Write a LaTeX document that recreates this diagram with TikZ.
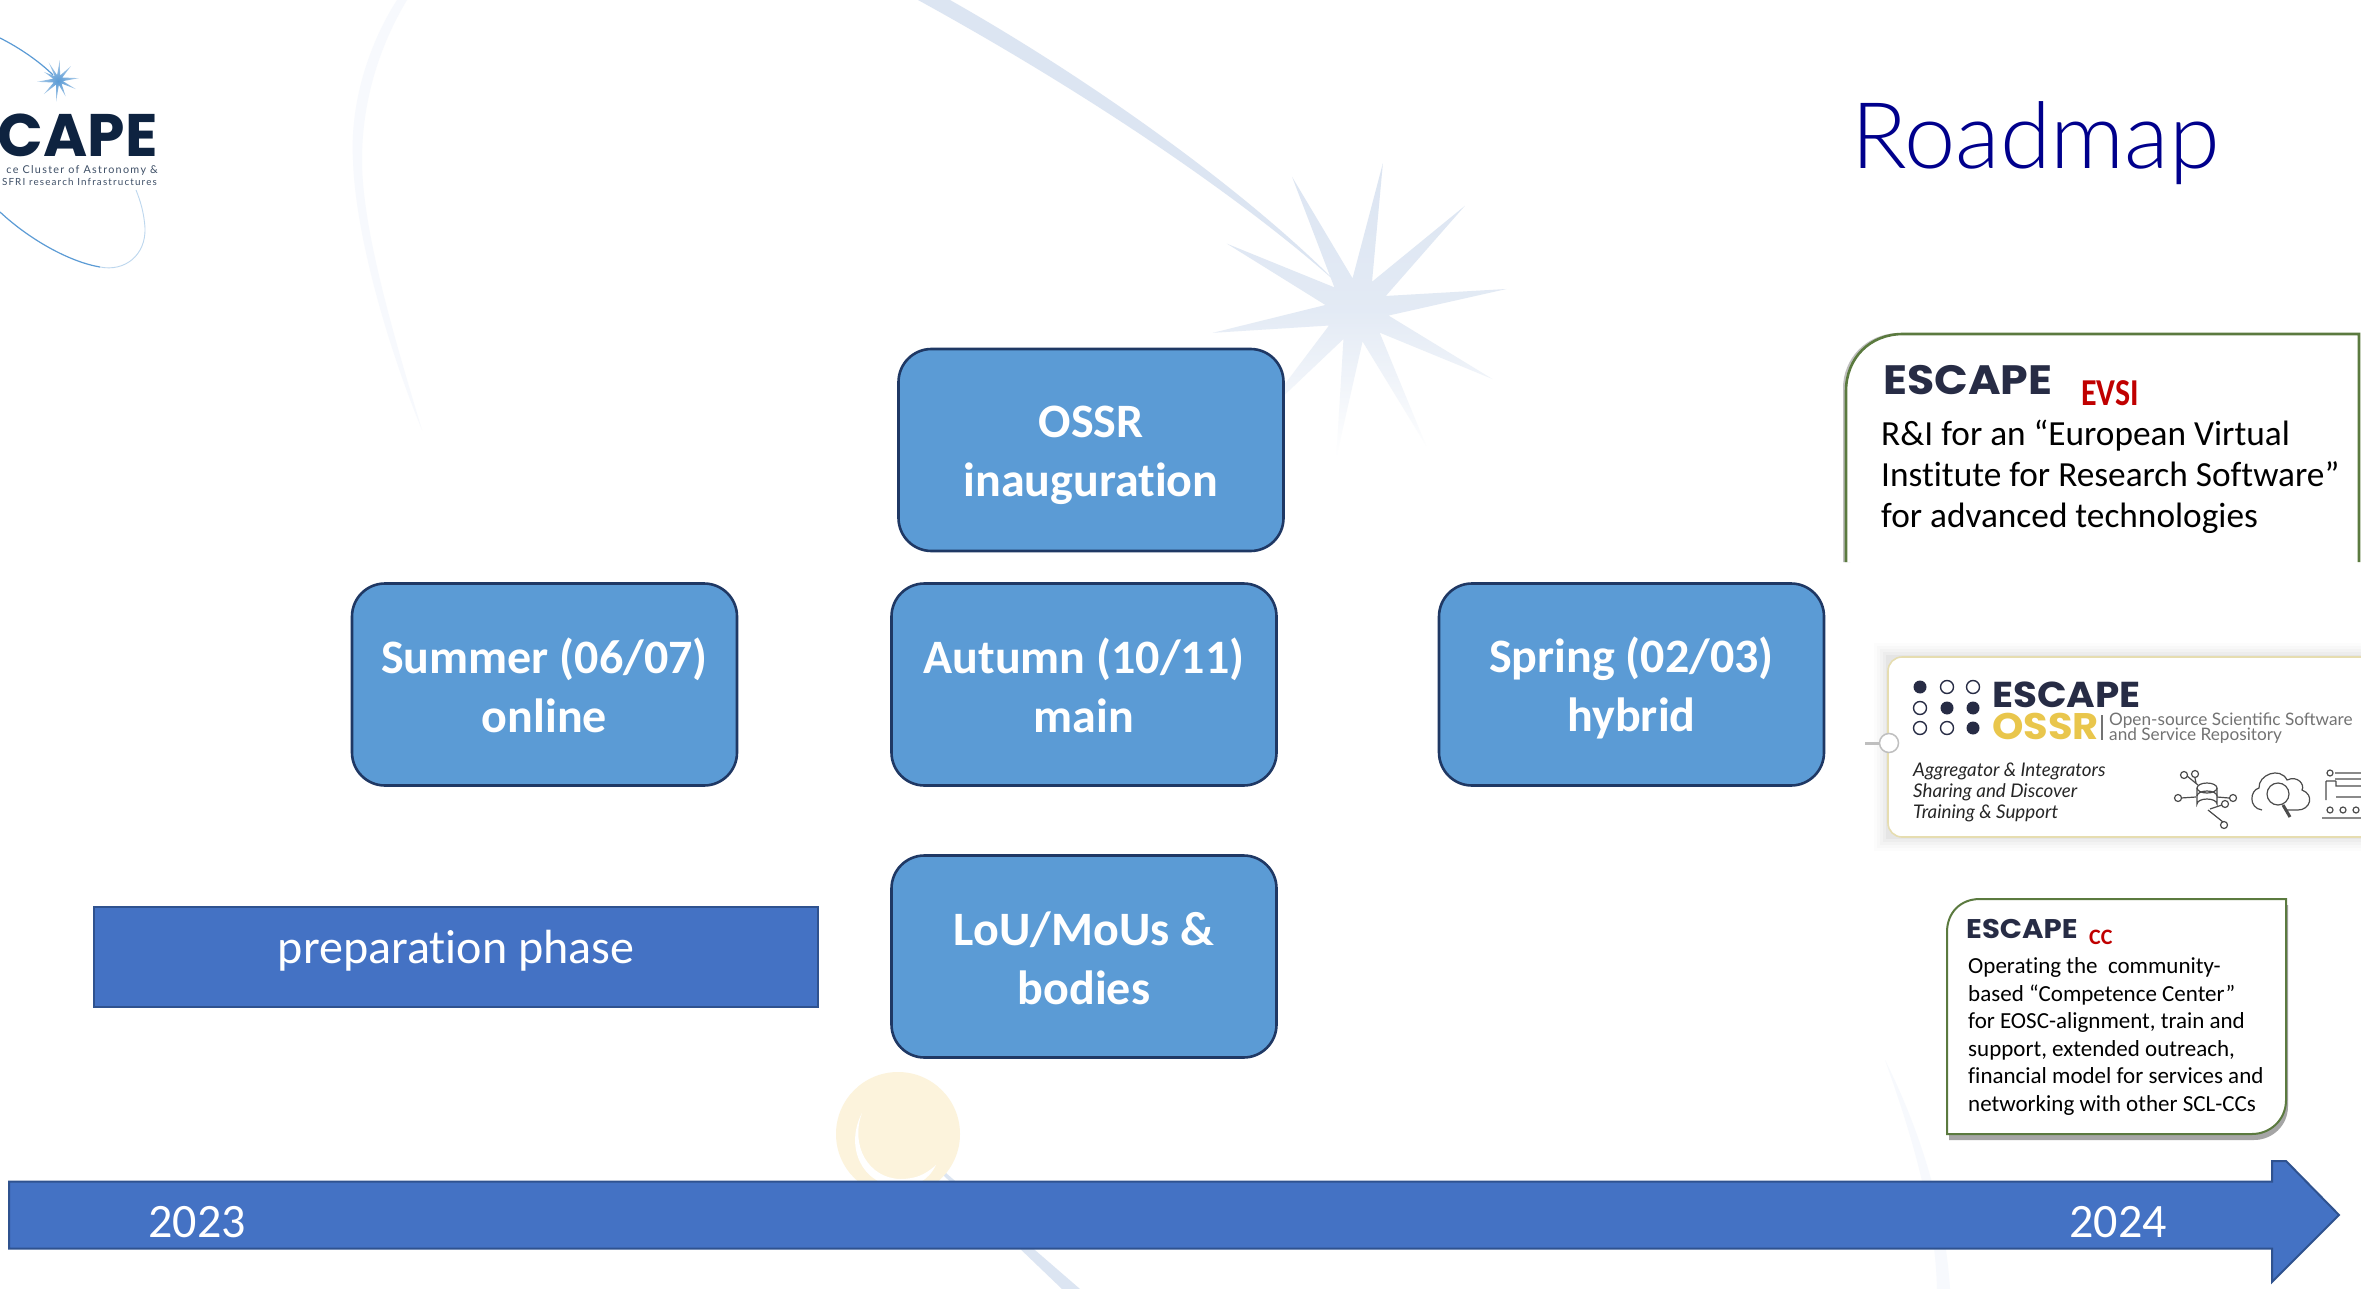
\documentclass[tikz,border=0pt]{standalone}
\usepackage{fontspec}
\setmainfont{Carlito}[Ligatures=NoCommon]
\newfontfamily\poppinsfont{Poppins}
\newfontfamily\escfont{Poppins}[FakeStretch=1.08]
\newfontfamily\narrowfont{Carlito}[FakeStretch=.84]
\newfontfamily\logosmall{Lato}[LetterSpace=12]
\newfontfamily\latofont{Lato}
\newfontfamily\lightfont{Lato Light}
\usetikzlibrary{shadows}
\definecolor{boxfill}{HTML}{5B9BD5}
\definecolor{boxline}{HTML}{1F3864}
\definecolor{barfill}{HTML}{4472C4}
\definecolor{barline}{HTML}{2F528F}
\definecolor{titleblue}{HTML}{00008C}
\definecolor{logonavy}{HTML}{0E2340}
\definecolor{escgray}{HTML}{272C45}
\definecolor{evred}{HTML}{C00000}
\definecolor{evgreen}{HTML}{5B7A3F}
\definecolor{trail}{HTML}{DCE5F2}
\definecolor{paletrail}{HTML}{F7F9FD}
\definecolor{sunyellow}{HTML}{FCF3DC}
\definecolor{ossryellow}{HTML}{E9C64C}
\definecolor{ossrframe}{HTML}{E6DDB0}
\newcommand{\fsz}[2]{\fontsize{#1pt}{#2pt}\selectfont}
\newcommand{\lnst}{\rule[-6pt]{0pt}{49pt}}
\tikzset{
  x=1pt,y=-1pt,
  stagebox/.style={draw=boxline,line width=2.6pt,fill=boxfill,rounded corners=33pt,minimum width=385pt,minimum height=202pt,
    text=white,align=center,font=\bfseries\fsz{48}{59},inner sep=0pt},
  bodytxt/.style={anchor=base west,inner sep=0pt,text=black},
  escword/.style={anchor=base west,inner sep=0pt,text=escgray},
  redword/.style={anchor=base west,inner sep=0pt,text=evred},
  whitetxt/.style={anchor=base,inner sep=0pt,text=white,font=\fsz{48}{59}},
  icon/.style={draw=black!70,line width=1.2pt},
  opendot/.style={draw=escgray,line width=1.4pt,fill=white},
  fulldot/.style={fill=escgray},
}
\begin{document}
\begin{tikzpicture}
\useasboundingbox (0,0) rectangle (2361,1289);
\clip (0,0) rectangle (2361,1289);
\fill[white] (0,0) rectangle (2361,1289);
% pale background arcs
\fill[paletrail] (397,0) .. controls (365,50) and (350,110) .. (353,160) .. controls (355,230) and (385,340) .. (422,430)
  .. controls (395,340) and (362,230) .. (362,160) .. controls (362,100) and (380,45) .. (407,0) -- cycle;
\fill[paletrail] (1885,1060) .. controls (1910,1130) and (1935,1210) .. (1937,1289) -- (1950,1289) .. controls (1945,1210) and (1920,1130) .. (1885,1060) -- cycle;
% comet trail and star
\fill[trail] (918,0) -- (950,0) .. controls (1100,85) and (1250,195) .. (1337,283)
  .. controls (1250,205) and (1100,100) .. (918,0) -- cycle;
\begin{scope}[shift={(1357,310)}]
\shade[top color=trail,bottom color=white,middle color=trail!80!white]
 (80:149pt) -- (62:32pt) -- (44:150pt) -- (26:32pt) -- (8:151pt) -- (-10:32pt) -- (-27:152pt) -- (-45:32pt) -- (-63:152pt) -- (-80:32pt)
 -- (-98:149pt) -- (-115:32pt) -- (-132:150pt) -- (-151:32pt) -- (-171:146pt) -- (171:32pt) -- (153:146pt) -- (135:32pt) -- (116:148pt) -- (98:32pt) -- cycle;
\end{scope}
\fill[trail] (941,1173) -- (946,1173) -- (1080,1289) -- (1062,1289) -- cycle;
% sun
\fill[sunyellow] (898,1134) circle[radius=62];
\fill[white] (862,1113) .. controls (845,1145) and (860,1185) .. (900,1187) .. controls (915,1187) and (928,1181) .. (936,1165)
 .. controls (925,1175) and (915,1179) .. (900,1179) .. controls (868,1178) and (850,1145) .. (862,1113) -- cycle;
% logo
\draw[boxfill,line width=1.2pt] (0,38) .. controls (20,48) and (40,62) .. (53,75);
\draw[boxfill,line width=1.2pt] (0,212) .. controls (30,240) and (70,262) .. (100,267);
\draw[boxfill!40!white,line width=.9pt] (100,267) .. controls (125,272) and (146,255) .. (145,228) .. controls (144,212) and (140,200) .. (136,190);
\begin{scope}[shift={(58,80)}]
\shade[inner color=boxfill,outer color=boxfill!45!white]
 (85:20pt) -- (65:5pt) -- (47:19pt) -- (30:5pt) -- (5:21pt) -- (-13:5pt) -- (-27:20pt) -- (-45:5pt) -- (-65:18pt) -- (-80:5pt)
 -- (-95:22pt) -- (-113:5pt) -- (-135:20pt) -- (-150:5pt) -- (-175:21pt) -- (165:5pt) -- (150:16pt) -- (130:5pt) -- (118:20pt) -- (100:5pt) -- cycle;
\end{scope}
\node[anchor=base east,inner sep=0pt,text=logonavy,font=\poppinsfont\bfseries\fsz{60}{60}] (logoword) at (158,157) {CAPE};
\node[anchor=base east,inner sep=0pt,text=logonavy!80!white,font=\logosmall\fsz{10.8}{11}] (logosub1) at (158,174) {ce Cluster of Astronomy \&};
\node[anchor=base east,inner sep=0pt,text=logonavy!80!white,font=\logosmall\fsz{9.8}{11}] (logosub2) at (157,186) {SFRI research Infrastructures};
% title
\node[anchor=base west,inner sep=0pt,text=titleblue,font=\lightfont\fsz{92}{92}] (title) at (1851,169) {Roadmap};
% stage boxes
\node[stagebox] (ossr) at (1091,450) {\lnst OSSR\\\lnst inauguration};
\node[stagebox] (summer) at (544.5,684.5) {\lnst Summer (06/07)\\\lnst online};
\node[stagebox] (autumn) at (1084,684.5) {\lnst Autumn (10/11)\\\lnst main};
\node[stagebox] (spring) at (1631.5,684.5) {\lnst Spring (02/03)\\\lnst hybrid};
\node[stagebox] (lou) at (1084,956.5) {\lnst LoU/MoUs \&\\\lnst bodies};
% preparation bar
\node[draw=barline,line width=2pt,fill=barfill,minimum width=724pt,minimum height=100pt,inner sep=0pt] (prep) at (456,956.5) {};
\node[whitetxt] (preptext) at (456,963) {preparation phase};
% timeline arrow
\draw[draw=barline,line width=2pt,fill=barfill] (9,1181.5) -- (2272,1181.5) -- (2272,1161) -- (2286,1161) -- (2339,1215) -- (2272,1282) -- (2272,1248.5) -- (9,1248.5) -- cycle;
\node[whitetxt] (y23) at (197,1237) {2023};
\node[whitetxt] (y24) at (2118,1237) {2024};
% EVSI card
\fill[black!25] (1843,562) -- (1843,388) .. controls (1843,360) and (1865,333) .. (1900,333) -- (1900,340) .. controls (1870,340) and (1850,365) .. (1850,388) -- (1850,562) -- cycle;
\fill[white] (1846,562) -- (1846,391) .. controls (1846,358) and (1870,334) .. (1903,334) -- (2361,334) -- (2361,562) -- cycle;
\draw[evgreen,line width=2.6pt] (1846,562) -- (1846,391) .. controls (1846,358) and (1870,334) .. (1903,334) -- (2359,334) -- (2359,562);
\node[escword,font=\escfont\bfseries\fsz{41}{41}] (evesc) at (1883,394) {ESCAPE};
\node[redword,font=\narrowfont\bfseries\fsz{38}{38}] (evred) at (2081,405) {EVSI};
\node[bodytxt,font=\fsz{35.3}{41},align=left,anchor=north west] (evbody) at (1881,420) {R\&I for an “European Virtual\\Institute for Research Software”\\for advanced technologies};
% OSSR card
\foreach \g/\o in {14/.012,11/.015,8/.02,5/.025,2/.03}{
  \fill[black,opacity=\o] (1888-\g,657-\g) rectangle (2361,837+\g);
}
\draw[ossrframe,line width=1.6pt,fill=white,rounded corners=14pt] (1888,837) -- (1888,657) -- (2380,657) -- (2380,837) -- cycle;
\draw[black!25,line width=3pt] (1865,743) -- (1880,743);
\node[circle,draw=black!25,line width=1.5pt,fill=white,minimum size=19pt,inner sep=0pt] (ossrknob) at (1889,743) {};
\foreach \cx/\cy/\st in {1920/687/fulldot,1947/687/opendot,1973/687/opendot,1920/708/opendot,1947/708/fulldot,1973/708/fulldot,1920/728/opendot,1947/728/opendot,1973/728/fulldot}{
  \path[\st] (\cx,\cy) circle[radius=6.5];
}
\node[escword,font=\escfont\bfseries\fsz{36}{36}] (osesc) at (1992,707) {ESCAPE};
\node[anchor=base west,inner sep=0pt,text=ossryellow,font=\escfont\bfseries\fsz{37}{37}] (osname) at (1992,739) {OSSR};
\draw[black!55,line width=1.2pt] (2102,715) -- (2102,740);
\node[anchor=base west,inner sep=0pt,text=black!55,font=\latofont\fsz{17.2}{15}] (osline1) at (2109,725) {Open-source Scientific Software};
\node[anchor=base west,inner sep=0pt,text=black!55,font=\latofont\fsz{17.2}{15}] (osline2) at (2109,740) {and Service Repository};
\node[anchor=base west,inner sep=0pt,text=black!85,font=\latofont\itshape\fsz{18.8}{21}] (ositem1) at (1913,776) {Aggregator \& Integrators};
\node[anchor=base west,inner sep=0pt,text=black!85,font=\latofont\itshape\fsz{18.8}{21}] (ositem2) at (1913,797) {Sharing and Discover};
\node[anchor=base west,inner sep=0pt,text=black!85,font=\latofont\itshape\fsz{18.8}{21}] (ositem3) at (1913,818) {Training \& Support};
% OSSR icons
\draw[icon] (2197,788) -- (2197,804) arc[start angle=180,end angle=360,x radius=10,y radius=5] -- (2217,788);
\draw[icon] (2207,788) ellipse[x radius=10,y radius=5];
\draw[icon] (2197,796) arc[start angle=180,end angle=360,x radius=10,y radius=5];
\draw[icon] (2196,783) -- (2195,778) (2198,785) -- (2187,776) (2196,797) -- (2181,798) (2217,797) -- (2229,798) (2210,809) -- (2222,805) (2208,810) -- (2223,822);
\draw[icon] (2195,774) circle[radius=3.5] (2184,775) circle[radius=3.5] (2178,798) circle[radius=3.5] (2233,798) circle[radius=3.5] (2225,804) circle[radius=3.5] (2224,825) circle[radius=3.5];
\draw[icon] (2262,810) .. controls (2248,808) and (2250,790) .. (2259,788) .. controls (2258,775) and (2280,766) .. (2287,780) .. controls (2298,775) and (2305,785) .. (2302,790) .. controls (2315,795) and (2310,810) .. (2298,810) -- (2285,810);
\draw[icon] (2278,794) circle[radius=11];
\draw[icon,line width=3pt] (2283,805) -- (2290,817);
\draw[icon] (2330,773) circle[radius=3] (2335,773) -- (2361,773) (2335,779) -- (2361,779) (2326,781) -- (2326,800) (2326,781) -- (2336,781) (2336,781) -- (2336,786) -- (2361,786) (2336,797) -- (2361,797) (2322,818) -- (2361,818);
\draw[icon] (2330,810) circle[radius=3] (2343,810) circle[radius=3] (2356,810) circle[radius=3];
% CC card
\path[draw=evgreen,line width=2pt,fill=white,drop shadow={shadow xshift=2pt,shadow yshift=-6pt,opacity=.5,fill=black!70}]
 (1947,1134) -- (1947,932) .. controls (1947,913) and (1960,899) .. (1980,899) -- (2286,899) -- (2286,1100) .. controls (2286,1120) and (2270,1134) .. (2252,1134) -- cycle;
\node[escword,font=\escfont\bfseries\fsz{27}{27}] (ccesc) at (1966,938) {ESCAPE};
\node[redword,font=\bfseries\fsz{22}{22}] (ccred) at (2089,944) {CC};
\node[bodytxt,font=\fsz{23}{27.7},align=left,anchor=base west] (cc1) at (1968,973) {Operating the~~community-};
\node[bodytxt,font=\fsz{23}{27.7}] (cc2) at (1968,1001) {based “Competence Center”};
\node[bodytxt,font=\fsz{23}{27.7}] (cc3) at (1968,1028) {for EOSC-alignment, train and};
\node[bodytxt,font=\fsz{23}{27.7}] (cc4) at (1968,1056) {support, extended outreach,};
\node[bodytxt,font=\fsz{23}{27.7}] (cc5) at (1968,1083) {financial model for services and};
\node[bodytxt,font=\fsz{23}{27.7}] (cc6) at (1968,1111) {networking with other SCL-CCs};
\end{tikzpicture}
\end{document}
